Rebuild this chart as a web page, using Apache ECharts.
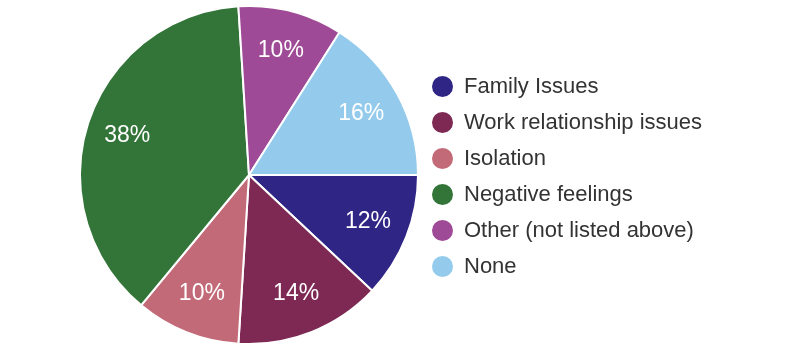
<!DOCTYPE html>
<html>
<head>
<meta charset="utf-8">
<script src="https://cdn.jsdelivr.net/npm/echarts@6/dist/echarts.min.js"></script>
<style>
  html, body { margin: 0; padding: 0; background: #fff; }
  #chart { width: 790px; height: 350px; }
</style>
</head>
<body>
<div id="chart"></div>
<script>
const categories = ['Family Issues', 'Work relationship issues', 'Isolation', 'Negative feelings', 'Other (not listed above)', 'None'];
const values = [12, 14, 10, 38, 10, 16];
const colors = ['#2E2585', '#7E2954', '#C26A77', '#337538', '#9F4A96', '#94CBEC'];

const FONT = "'Liberation Sans', Arial, sans-serif";
const myChart = echarts.init(document.getElementById('chart'));
const pieData = categories.map((name, i) => ({ name: name, value: values[i] }));

const option = {
  animation: false,
  color: colors,
  legend: {
    orient: 'vertical',
    left: 430,
    top: 74,
    padding: 0,
    icon: 'circle',
    itemWidth: 23,
    itemHeight: 23,
    itemGap: 11,
    selectedMode: false,
    textStyle: { fontSize: 22, lineHeight: 23, color: '#333', fontFamily: FONT, padding: [0, 0, 0, 5] },
    data: categories
  },
  series: [
    {
      type: 'pie',
      center: [249, 175],
      radius: [0, 169],
      startAngle: 0,
      clockwise: true,
      silent: true,
      label: { show: false },
      labelLine: { show: false },
      itemStyle: { borderColor: '#fff', borderWidth: 2 },
      data: pieData
    },
    {
      // transparent ring only used to place the percentage labels
      type: 'pie',
      center: [249, 175],
      radius: [81, 169],
      startAngle: 0,
      clockwise: true,
      silent: true,
      legendHoverLink: false,
      itemStyle: { color: 'rgba(0,0,0,0)', borderWidth: 0 },
      label: {
        show: true,
        position: 'inside',
        formatter: '{c}%',
        color: '#fff',
        fontSize: 23,
        fontFamily: FONT
      },
      labelLine: { show: false },
      data: pieData
    }
  ]
};
myChart.setOption(option);
</script>
</body>
</html>
